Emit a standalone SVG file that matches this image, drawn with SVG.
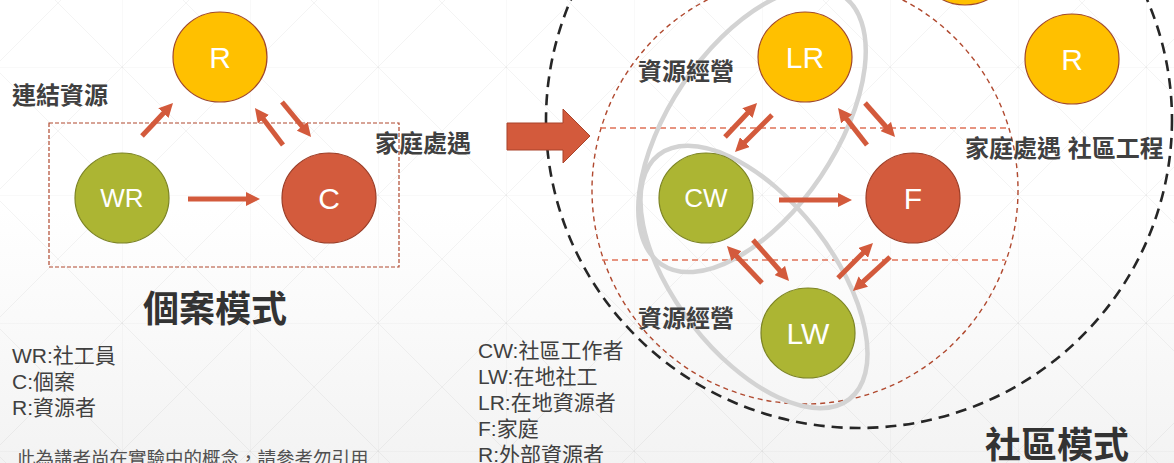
<svg xmlns="http://www.w3.org/2000/svg" width="1174" height="463" viewBox="0 0 1174 463">
<defs>
<linearGradient id="bg" x1="0" y1="0" x2="0" y2="1">
<stop offset="0" stop-color="#ffffff"/>
<stop offset="0.45" stop-color="#ffffff"/>
<stop offset="1" stop-color="#f3f3f3"/>
</linearGradient>
<pattern id="grid" patternUnits="userSpaceOnUse" x="-6" y="-61" width="128" height="128">
<path d="M0,0 H128 M0,0 V128 M0,0 L128,128 M128,0 L0,128" stroke="#000" stroke-opacity="0.045" stroke-width="1" fill="none"/>
</pattern>
<marker id="ah" viewBox="0 0 14 14" refX="2" refY="7" markerWidth="14" markerHeight="14" markerUnits="userSpaceOnUse" orient="auto">
<path d="M0,0 L14,7 L0,14 z" fill="#d35a3c"/>
</marker>
<style>
.yel{fill:#ffc000;stroke:#a0482a;stroke-width:1.2}
.grn{fill:#acb533;stroke:#7c8424;stroke-width:1.2}
.red{fill:#d35b3d;stroke:#9b3d27;stroke-width:1.2}
.nl{font-family:'Liberation Sans','Noto Sans CJK TC',sans-serif;font-size:30px;fill:#ffffff;text-anchor:middle}
.nl2{font-family:'Liberation Sans','Noto Sans CJK TC',sans-serif;font-size:26px;fill:#ffffff;text-anchor:middle}
.lab{font-family:'Liberation Sans','Noto Sans CJK TC',sans-serif;font-size:24px;font-weight:bold;fill:#404040}
.title{font-family:'Liberation Sans','Noto Sans CJK TC',sans-serif;font-size:36px;font-weight:bold;fill:#333333}
.leg{font-family:'Liberation Sans','Noto Sans CJK TC',sans-serif;font-size:21px;fill:#404040}
.note{font-family:'Liberation Sans','Noto Sans CJK TC',sans-serif;font-size:18.5px;fill:#505050}
.arr{stroke:#d35a3c;stroke-width:5;fill:none;marker-end:url(#ah)}
.gray{fill:none;stroke:#d3d3d3;stroke-width:4.5}
</style>
</defs>
<rect width="1174" height="463" fill="url(#bg)"/>
<rect width="1174" height="463" fill="url(#grid)"/>

<g id="frames">
<rect x="49" y="123" width="350" height="144" fill="none" stroke="#b0492f" stroke-width="1.2" stroke-dasharray="4 2"/>
<ellipse cx="859" cy="120" rx="313" ry="308" fill="none" stroke="#262626" stroke-width="2.6" stroke-dasharray="11 7"/>
<ellipse cx="805" cy="190" rx="213" ry="214" fill="none" stroke="#b0492f" stroke-width="1.4" stroke-dasharray="5 4"/>
<line x1="600" y1="128" x2="1006" y2="128" stroke="#e07257" stroke-width="1.3" stroke-dasharray="6 4"/>
<line x1="602" y1="260" x2="1005" y2="260" stroke="#e07257" stroke-width="1.3" stroke-dasharray="6 4"/>
<ellipse class="gray" cx="0" cy="0" rx="162" ry="83" transform="translate(752,130) rotate(-56)"/>
<ellipse class="gray" cx="0" cy="0" rx="155" ry="78" transform="translate(754,277) rotate(52)"/>
</g>

<g id="bigarrow">
<polygon points="507,123 563,123 563,109 590,136 563,163 563,150 507,150" fill="#d35a3c" stroke="#a9432b" stroke-width="1"/>
</g>

<g id="node-R-left"><ellipse class="yel" cx="220" cy="57" rx="47" ry="45"/><text class="nl" x="220" y="68">R</text></g>
<g id="node-WR"><ellipse class="grn" cx="122" cy="198" rx="47" ry="45"/><text class="nl2" x="122" y="207">WR</text></g>
<g id="node-C"><ellipse class="red" cx="329" cy="198" rx="47" ry="45"/><text class="nl" x="329" y="209">C</text></g>

<g id="node-R-top"><ellipse class="yel" cx="965" cy="-40" rx="47" ry="45"/></g>
<g id="node-LR"><ellipse class="yel" cx="805" cy="57" rx="47" ry="45"/><text class="nl" x="805" y="68">LR</text></g>
<g id="node-R-right"><ellipse class="yel" cx="1072" cy="59" rx="47" ry="45"/><text class="nl" x="1072" y="70">R</text></g>
<g id="node-CW"><ellipse class="grn" cx="706" cy="198" rx="47" ry="45"/><text class="nl2" x="706" y="207">CW</text></g>
<g id="node-F"><ellipse class="red" cx="913" cy="198" rx="47" ry="45"/><text class="nl" x="913" y="209">F</text></g>
<g id="node-LW"><ellipse class="grn" cx="808" cy="333" rx="47" ry="45"/><text class="nl" x="808" y="344">LW</text></g>

<g id="connectors">
<line class="arr" x1="142" y1="136" x2="164.8" y2="111.7"/>
<line class="arr" x1="283" y1="145" x2="262.2" y2="117.6"/>
<line class="arr" x1="282" y1="102" x2="303.4" y2="127.8"/>
<line class="arr" x1="188" y1="199" x2="248" y2="199"/>
<line class="arr" x1="725" y1="137" x2="748.8" y2="111.7"/>
<line class="arr" x1="772" y1="115" x2="743.5" y2="143.5"/>
<line class="arr" x1="867" y1="145" x2="845.4" y2="117.4"/>
<line class="arr" x1="865" y1="103" x2="887.1" y2="128"/>
<line class="arr" x1="779" y1="200" x2="840" y2="200"/>
<line class="arr" x1="762" y1="283" x2="735.2" y2="254.7"/>
<line class="arr" x1="753" y1="240" x2="781.1" y2="272"/>
<line class="arr" x1="838" y1="278" x2="864.5" y2="251.5"/>
<line class="arr" x1="890" y1="257" x2="861.8" y2="282.9"/>
</g>

<g id="labels">
<text class="lab" x="12" y="104">連結資源</text>
<text class="lab" x="375" y="152">家庭處遇</text>
<text class="lab" x="638" y="80">資源經營</text>
<text class="lab" x="638" y="327">資源經營</text>
<text class="lab" x="965" y="157">家庭處遇 社區工程</text>
<text class="title" x="143" y="322">個案模式</text>
<text class="title" x="985" y="458">社區模式</text>
<text class="leg" x="12" y="363">WR:社工員</text>
<text class="leg" x="12" y="389">C:個案</text>
<text class="leg" x="12" y="415">R:資源者</text>
<text class="leg" x="478" y="358">CW:社區工作者</text>
<text class="leg" x="478" y="384">LW:在地社工</text>
<text class="leg" x="478" y="410">LR:在地資源者</text>
<text class="leg" x="478" y="436">F:家庭</text>
<text class="leg" x="478" y="462">R:外部資源者</text>
<text class="note" x="17" y="465">此為講者尚在實驗中的概念，請參考勿引用</text>
</g>
</svg>
